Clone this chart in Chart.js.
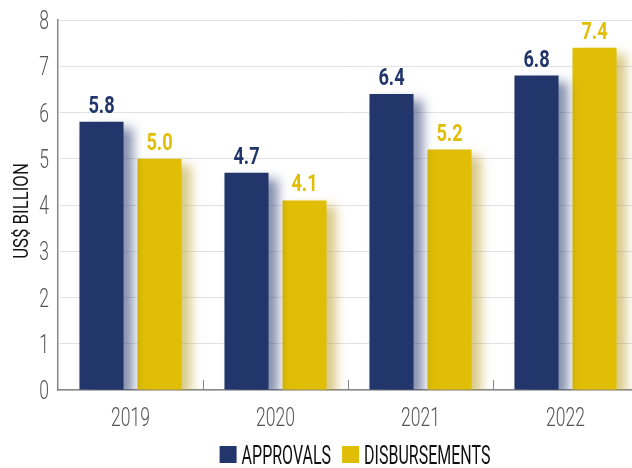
<!DOCTYPE html>
<html>
<head>
<meta charset="utf-8">
<style>
  html, body { margin: 0; padding: 0; background: #fff; overflow: hidden; }
  #wrap { width: 640px; height: 468px; }
</style>
</head>
<body>
<div id="wrap"><canvas id="chart"></canvas></div>

<script src="https://cdn.jsdelivr.net/npm/chart.js"></script>
<script>
  var years = ['2019', '2020', '2021', '2022'];
  var approvals = [5.8, 4.7, 6.4, 6.8];
  var disbursements = [5.0, 4.1, 5.2, 7.4];
  var yTicks = [0, 1, 2, 3, 4, 5, 6, 7, 8];
  var seriesNames = ['APPROVALS', 'DISBURSEMENTS'];

  var NAVY = '#22366c';
  var GOLD = '#e1be06';
  var FONT = 'Roboto, sans-serif';

  // no condensed font installed, so squeeze Roboto horizontally
  function narrowText(ctx, text, x, y, font, color, align, sx) {
    ctx.save();
    ctx.font = font;
    ctx.fillStyle = color;
    ctx.textBaseline = 'alphabetic';
    ctx.translate(x, y);
    ctx.scale(sx, 1);
    ctx.textAlign = align;
    ctx.fillText(text, 0, 0);
    ctx.restore();
  }
  function narrowWidth(ctx, text, font, sx) {
    ctx.save();
    ctx.font = font;
    var w = ctx.measureText(text).width * sx;
    ctx.restore();
    return w;
  }

  // soft shadow to the right of each bar
  var shadowPlugin = {
    id: 'barShadow',
    beforeDatasetDraw: function(chart, args) {
      var ctx = chart.ctx;
      ctx.save();
      ctx.shadowColor = args.index === 0 ? 'rgba(34,54,108,0.55)' : 'rgba(180,150,20,0.5)';
      ctx.shadowBlur = 10;
      ctx.shadowOffsetX = 9;
      ctx.shadowOffsetY = 6;
    },
    afterDatasetDraw: function(chart) {
      chart.ctx.restore();
    }
  };

  // value labels above bars
  var labelPlugin = {
    id: 'valueLabels',
    afterDatasetsDraw: function(chart) {
      var ctx = chart.ctx;
      chart.data.datasets.forEach(function(ds, di) {
        var meta = chart.getDatasetMeta(di);
        meta.data.forEach(function(bar, i) {
          narrowText(ctx, ds.data[i].toFixed(1), bar.x, bar.y - 9,
            'bold 24px ' + FONT, ds.backgroundColor, 'center', 0.76);
        });
      });
    }
  };

  // axis labels, title, category separators and legend
  var textPlugin = {
    id: 'axisText',
    afterDraw: function(chart) {
      var ctx = chart.ctx, area = chart.chartArea;
      var xs = chart.scales.x, ys = chart.scales.y;

      // y tick labels
      yTicks.forEach(function(v) {
        narrowText(ctx, String(v), area.left - 9, ys.getPixelForValue(v) + 9,
          '300 25px ' + FONT, '#555', 'right', 0.7);
      });

      // x tick labels
      years.forEach(function(y, i) {
        narrowText(ctx, y, xs.getPixelForValue(i), area.bottom + 36,
          '300 25px ' + FONT, '#555', 'center', 0.7);
      });

      // y axis title
      ctx.save();
      ctx.translate(28, (area.top + area.bottom) / 2 + 6);
      ctx.rotate(-Math.PI / 2);
      narrowText(ctx, 'US$ BILLION', 0, 0, '21px ' + FONT, '#111', 'center', 0.8);
      ctx.restore();

      // separators between categories
      ctx.save();
      ctx.strokeStyle = '#888';
      ctx.lineWidth = 1;
      for (var i = 0; i < years.length - 1; i++) {
        var px = Math.round((xs.getPixelForValue(i) + xs.getPixelForValue(i + 1)) / 2) + 0.5;
        ctx.beginPath();
        ctx.moveTo(px, area.bottom);
        ctx.lineTo(px, area.bottom - 10);
        ctx.stroke();
      }
      ctx.restore();

      // legend
      var lFont = '25px ' + FONT, lsx = 0.64, box = 17, gapBox = 5, gapItem = 11;
      var colors = [NAVY, GOLD];
      var widths = seriesNames.map(function(n) { return narrowWidth(ctx, n, lFont, lsx); });
      var total = widths[0] + widths[1] + 2 * (box + gapBox) + gapItem;
      var lx = (area.left + area.right) / 2 + 7 - total / 2;
      var ly = 446;
      seriesNames.forEach(function(n, k) {
        ctx.fillStyle = colors[k];
        ctx.fillRect(lx, ly, box, box);
        lx += box + gapBox;
        narrowText(ctx, n, lx, ly + box + 1, lFont, '#111', 'left', lsx);
        lx += widths[k] + gapItem;
      });
    }
  };

  new Chart(document.getElementById('chart'), {
    type: 'bar',
    data: {
      labels: years,
      datasets: [
        { label: seriesNames[0], data: approvals, backgroundColor: NAVY },
        { label: seriesNames[1], data: disbursements, backgroundColor: GOLD }
      ]
    },
    options: {
      responsive: true,
      maintainAspectRatio: false,
      animation: false,
      categoryPercentage: 0.8,
      barPercentage: 0.76,
      layout: { padding: { top: 20, right: 2, left: 58, bottom: 78 } },
      scales: {
        x: {
          grid: { display: false, drawTicks: false },
          border: { display: true, color: '#888', width: 1.5 },
          ticks: { display: false }
        },
        y: {
          min: 0,
          max: 8,
          afterBuildTicks: function(scale) {
            scale.ticks = yTicks.map(function(v) { return { value: v }; });
          },
          grid: { color: '#e2e2e6', drawTicks: false },
          border: { display: true, color: '#888', width: 1.5 },
          ticks: { display: false }
        }
      },
      plugins: {
        legend: { display: false },
        tooltip: { enabled: false }
      }
    },
    plugins: [shadowPlugin, labelPlugin, textPlugin]
  });
</script>
</body>
</html>
